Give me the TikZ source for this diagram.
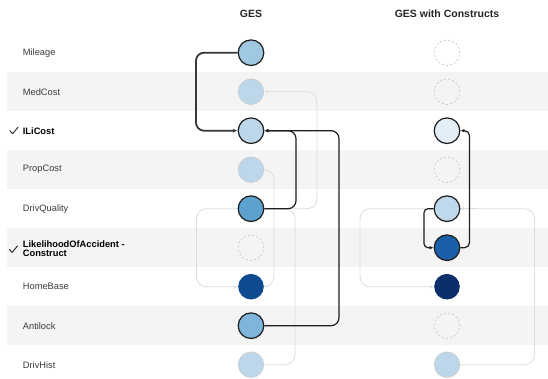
\documentclass[tikz,border=0pt]{standalone}
\usepackage{fontspec}
\setmainfont{Liberation Sans}
\usetikzlibrary{arrows.meta,backgrounds}
\definecolor{band}{HTML}{F4F4F4}
\definecolor{lightedge}{HTML}{DCDCDC}
\definecolor{fadeborder}{HTML}{CCCCCC}
\definecolor{dashcol}{HTML}{C4C4C4}
\definecolor{darkline}{HTML}{1E1E1E}
\definecolor{labcol}{HTML}{3C3C3C}
\definecolor{cA}{HTML}{9FC9E1}
\definecolor{cFade}{HTML}{BDD7EA}
\definecolor{cB}{HTML}{BDD7EA}
\definecolor{cC}{HTML}{5DA2CF}
\definecolor{cD}{HTML}{0E4A8F}
\definecolor{cE}{HTML}{7FB5DA}
\definecolor{cF}{HTML}{E2EEF8}
\definecolor{cG}{HTML}{C0D8EB}
\definecolor{cH}{HTML}{1B5FA8}
\definecolor{cI}{HTML}{0A2F6B}
\tikzset{
  circ/.style={circle, minimum size=25.6pt, inner sep=0pt},
  strong/.style={circ, draw=darkline, line width=1.2pt},
  faded/.style={circ, fill=cFade, draw=fadeborder, line width=0.6pt},
  solidnb/.style={circ, draw=none},
  empty/.style={circ, draw=dashcol, dashed, dash pattern=on 2pt off 2.2pt, line width=0.6pt},
  darkedge/.style={draw=darkline, line width=1.2pt, rounded corners=8pt, -{Latex[length=4pt,width=3.6pt]}},
  thickedge/.style={draw=black!78, line width=1.8pt, rounded corners=8pt, -{Latex[length=4.5pt,width=4pt]}},
  lightedge/.style={draw=lightedge, line width=0.8pt, rounded corners=10pt, -{Latex[length=3.5pt,width=3pt]}},
  lab/.style={anchor=west, font=\fontsize{9.3}{9.5}\selectfont, text=labcol, inner sep=0pt},
  blab/.style={anchor=west, font=\fontsize{9.3}{9.6}\selectfont\bfseries, text=black, inner sep=0pt, align=left},
  head/.style={font=\fontsize{10.5}{12}\selectfont\bfseries, text=black!85},
  check/.style={draw=black!85, line width=0.9pt, line cap=round, line join=round}
}
\begin{document}
\begin{tikzpicture}[x=1pt,y=-1pt]
\useasboundingbox (0,0) rectangle (548,379);
% headers
\node[head] (h1) at (251,13.5) {GES};
\node[head] (h2) at (447,13.5) {GES with Constructs};
% labels
\node[lab] (l1) at (22.7,52.7) {Mileage};
\node[lab] (l2) at (22.7,91.7) {MedCost};
\node[blab] (l3) at (22.7,130.7) {ILiCost};
\node[lab] (l4) at (22.7,169.7) {PropCost};
\node[lab] (l5) at (22.7,208.7) {DrivQuality};
\node[blab] (l6) at (22.7,248.6) {LikelihoodOfAccident -\\Construct};
\node[lab] (l7) at (22.7,286.7) {HomeBase};
\node[lab] (l8) at (22.7,325.7) {Antilock};
\node[lab] (l9) at (22.7,364.7) {DrivHist};
% check marks
\draw[check] (10,130.8) -- (12.6,133.8) -- (18,127.2);
\draw[check] (9.5,249.5) -- (12.1,252.5) -- (17.5,245.9);
% GES nodes
\node[strong, fill=cA] (m1) at (251,52.7) {};
\node[faded] (m2) at (251,91.7) {};
\node[strong, fill=cB] (m3) at (251,130.7) {};
\node[faded] (m4) at (251,169.7) {};
\node[strong, fill=cC] (m5) at (251,208.7) {};
\node[empty] (m6) at (251,247.7) {};
\node[solidnb, fill=cD] (m7) at (251,286.7) {};
\node[strong, fill=cE] (m8) at (251,325.7) {};
\node[faded] (m9) at (251,364.7) {};
% Construct nodes
\node[empty] (c1) at (447,52.7) {};
\node[empty] (c2) at (447,91.7) {};
\node[strong, fill=cF] (c3) at (447,130.7) {};
\node[empty] (c4) at (447,169.7) {};
\node[strong, fill=cG] (c5) at (447,208.7) {};
\node[strong, fill=cH] (c6) at (447,247.7) {};
\node[solidnb, fill=cI] (c7) at (447,286.7) {};
\node[empty] (c8) at (447,325.7) {};
\node[faded] (c9) at (447,364.7) {};
% background: bands and light edges
\begin{scope}[on background layer]
  \fill[white] (0,0) rectangle (548,379);
  \foreach \r in {91.7,169.7,247.7,325.7}{
    \fill[band] (7,\r-19.5) rectangle (548,\r+19.5);
  }
  \draw[lightedge] (m5.east) -- (317,208.7) -- (317,91.7) -- (m2.east);
  \draw[lightedge] (m7.east) -- (274,286.7) -- (274,169.7) -- (m4.east);
  \draw[lightedge] (m9.east) -- (295,364.7) -- (295,208.7) -- (196.5,208.7) -- (196.5,286.7) -- (m7.west);
  \draw[lightedge] (c9.east) -- (534.5,364.7) -- (534.5,208.7) -- (360,208.7) -- (360,286.7) -- (c7.west);
  \coordinate (c5in) at (475,208.7);
  \draw[lightedge] (c5in) -- (c5.east);
\end{scope}
% dark edges GES
\draw[thickedge] (m1.west) -- (196,52.7) -- (196,130.7) -- (m3.west);
\draw[darkedge] (m5.east) -- (296,208.7) -- (296,130.7) -- (m3.east);
\draw[darkedge] (m8.east) -- (339,325.7) -- (339,130.7) -- (m3.east);
% dark edges constructs
\draw[darkedge, rounded corners=5pt] (c6.east) -- (469.5,247.7) -- (469.5,130.7) -- (c3.east);
\draw[darkedge, rounded corners=4pt] (c5.west) -- (424,208.7) -- (424,247.7) -- (c6.west);
\end{tikzpicture}
\end{document}
